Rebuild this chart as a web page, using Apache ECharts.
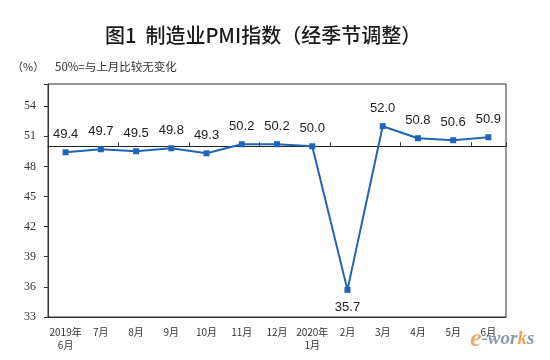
<!DOCTYPE html>
<html><head><meta charset="utf-8">
<script src="https://cdn.jsdelivr.net/npm/echarts@6/dist/echarts.min.js"></script>
<style>html,body{margin:0;padding:0;background:#fff}#c{width:550px;height:360px}</style>
</head><body><div id="c"></div>
<script>
var categories = ['2019年\n6月','7月','8月','9月','10月','11月','12月','2020年\n1月','2月','3月','4月','5月','6月'];
var pmiValues = [49.4, 49.7, 49.5, 49.8, 49.3, 50.2, 50.2, 50.0, 35.7, 52.0, 50.8, 50.6, 50.9];
var yMin = 33, yMax = 56.2, yInterval = 3;
var refValue = 50;

var gridTop = 84, gridBottom = 43, gridLeft = 48, gridRight = 44;
var plotH = 360 - gridTop - gridBottom;
var refBottom = 360 - (gridTop + plotH * (yMax - refValue) / (yMax - yMin));

var minIdx = pmiValues.indexOf(Math.min.apply(null, pmiValues));
var seriesData = pmiValues.map(function (v, i) {
  return i === minIdx ? { value: v, label: { position: 'bottom', distance: 8 } } : v;
});

var chart = echarts.init(document.getElementById('c'));
chart.setOption({
  animation: false,
  title: {
    text: '图1  制造业PMI指数（经季节调整）',
    left: 100, top: 20,
    textStyle: { fontFamily: 'Noto Sans CJK SC', fontSize: 20, fontWeight: 500, color: '#1a1a1a' }
  },
  graphic: [
    { type: 'text', left: 12, top: 61, style: { text: '（%）', font: '11px "Noto Sans CJK SC"', fill: '#333' } },
    { type: 'text', left: 55, top: 61, style: { text: '50%=与上月比较无变化', font: '11.5px "Noto Sans CJK SC"', fill: '#333' } },
    { type: 'text', left: 470, top: 326, style: {
        rich: {
          e: { fontFamily: 'Liberation Serif', fontStyle: 'italic', fontWeight: 'bold', fontSize: 26, fill: 'rgba(235,140,70,0.75)' },
          w: { fontFamily: 'Liberation Serif', fontStyle: 'italic', fontWeight: 'bold', fontSize: 19, fill: 'rgba(110,125,150,0.8)' },
          k: { fontFamily: 'Liberation Serif', fontStyle: 'italic', fontWeight: 'bold', fontSize: 19, fill: 'rgba(235,150,60,0.85)' }
        },
        text: '{e|e}{w|-wor}{k|k}{w|s}'
      } }
  ],
  grid: [
    { left: gridLeft, right: gridRight, top: gridTop, bottom: gridBottom, show: true, borderColor: '#333', borderWidth: 1 },
    { left: gridLeft, right: gridRight, top: gridTop, bottom: refBottom }
  ],
  xAxis: [
    {
      type: 'category', data: categories, gridIndex: 0,
      axisLine: { lineStyle: { color: '#333' } },
      axisTick: { show: false },
      axisLabel: { fontFamily: 'Noto Sans CJK SC', fontSize: 10, color: '#333', margin: 9, lineHeight: 13, interval: 0 }
    },
    {
      type: 'category', data: categories, gridIndex: 1,
      axisLine: { lineStyle: { color: '#222', width: 1 } },
      axisTick: { show: true, inside: true, length: 4, lineStyle: { color: '#333' } },
      axisLabel: { show: false }
    }
  ],
  yAxis: [
    {
      type: 'value', gridIndex: 0, min: yMin, max: yMax, interval: yInterval,
      splitLine: { show: false },
      axisLine: { show: true, lineStyle: { color: '#333' } },
      axisTick: { show: true, length: 4, lineStyle: { color: '#333' } },
      axisLabel: {
        fontFamily: 'Liberation Serif', fontSize: 12, color: '#333', margin: 12,
        formatter: function (v) { return (v - yMin) % yInterval === 0 ? String(v) : ''; }
      }
    },
    { type: 'value', gridIndex: 1, show: false, min: 0, max: 1 }
  ],
  series: [{
    type: 'line', xAxisIndex: 0, yAxisIndex: 0,
    data: seriesData,
    symbol: 'rect', symbolSize: 6,
    lineStyle: { color: '#1f64b8', width: 2 },
    itemStyle: { color: '#1f64b8' },
    label: { show: true, position: 'top', distance: 8, fontFamily: 'Liberation Sans', fontSize: 13, color: '#222',
      formatter: function (p) { return p.value.toFixed(1); } }
  }]
});
</script></body></html>
